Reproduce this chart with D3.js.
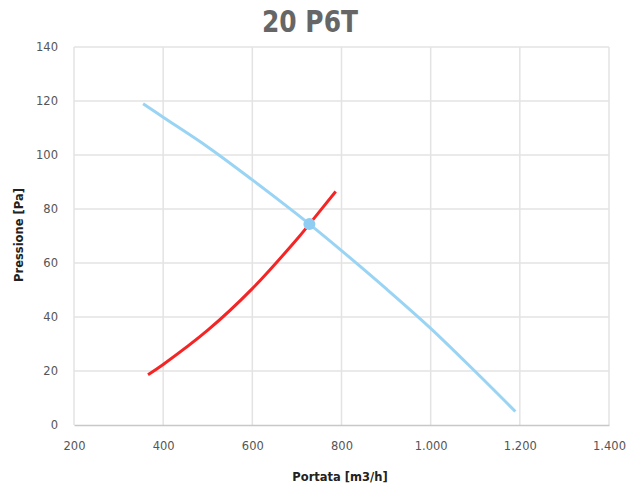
<!DOCTYPE html>
<html>
<head>
<meta charset="utf-8">
<script src="https://cdn.jsdelivr.net/npm/d3@7"></script>
<style>
  body { margin: 0; background: #fff; }
</style>
</head>
<body>
<svg id="chart"></svg>
<script>
// curva ventilatore (portata m3/h, pressione Pa)
const fanQ = [355, 400, 500, 600, 700, 728, 800, 900, 1000, 1100, 1190];
const fanP = [119, 114, 103, 90.8, 78.1, 74.4, 64.6, 50.5, 35.8, 19.8, 5];
// curva impianto
const sysQ = [366, 400, 500, 600, 700, 728, 787];
const sysP = [18.6, 22.4, 35.1, 50.5, 68.8, 74.4, 86.5];
// punto di lavoro
const workQ = [728];
const workP = [74.4];

const xTicks = [200, 400, 600, 800, 1000, 1200, 1400];
const yTicks = [0, 20, 40, 60, 80, 100, 120, 140];

document.addEventListener("DOMContentLoaded", drawChart);

function drawChart() {
    const width = 636;
    const height = 490;
    const margin = { left: 74, right: 27, top: 47, bottom: 65 };

    const svg = d3.select("svg#chart")
        .attr("width", width)
        .attr("height", height);

    const x = d3.scaleLinear().domain([200, 1400]).range([margin.left, width - margin.right]);
    const y = d3.scaleLinear().domain([0, 140]).range([height - margin.bottom, margin.top]);

    const fmt = d3.formatLocale({ decimal: ",", thousands: ".", grouping: [3], currency: ["€", ""] }).format(",d");

    // titolo
    svg.append("text")
        .attr("x", 310)
        .attr("y", 32)
        .attr("text-anchor", "middle")
        .attr("font-family", "'DejaVu Sans', sans-serif")
        .attr("font-weight", "bold")
        .attr("font-size", 30)
        .attr("textLength", 96)
        .attr("lengthAdjust", "spacingAndGlyphs")
        .attr("fill", "#666")
        .text("20 P6T");

    // griglia
    svg.append("g")
        .selectAll("line")
        .data(xTicks)
        .join("line")
        .attr("x1", d => x(d)).attr("x2", d => x(d))
        .attr("y1", y(140)).attr("y2", y(0))
        .attr("stroke", "#e3e3e3")
        .attr("stroke-width", 1.5);

    svg.append("g")
        .selectAll("line")
        .data(yTicks.slice(1))
        .join("line")
        .attr("x1", x(200)).attr("x2", x(1400))
        .attr("y1", d => y(d)).attr("y2", d => y(d))
        .attr("stroke", "#e3e3e3")
        .attr("stroke-width", 1.5);

    // asse x
    const xAxis = svg.append("g")
        .attr("transform", `translate(0,${y(0)})`)
        .call(d3.axisBottom(x).tickValues(xTicks).tickFormat(fmt).tickSize(0).tickPadding(17));
    xAxis.select(".domain").attr("stroke", "#c8c8c8").attr("stroke-width", 1.5);
    xAxis.selectAll("text")
        .attr("font-family", "'DejaVu Sans', sans-serif")
        .attr("font-size", 11.5)
        .attr("fill", "#555");

    // asse y
    const yAxis = svg.append("g")
        .attr("transform", `translate(${x(200)},0)`)
        .call(d3.axisLeft(y).tickValues(yTicks).tickSize(0).tickPadding(16));
    yAxis.select(".domain").remove();
    yAxis.selectAll("text")
        .attr("font-family", "'DejaVu Sans', sans-serif")
        .attr("font-size", 11.5)
        .attr("fill", "#555");

    // titoli assi
    svg.append("text")
        .attr("x", 340)
        .attr("y", 481)
        .attr("text-anchor", "middle")
        .attr("font-family", "'DejaVu Sans', sans-serif")
        .attr("font-weight", "bold")
        .attr("font-size", 11.5)
        .attr("fill", "#222")
        .text("Portata [m3/h]");

    svg.append("text")
        .attr("transform", `translate(23,235) rotate(-90)`)
        .attr("text-anchor", "middle")
        .attr("font-family", "'DejaVu Sans', sans-serif")
        .attr("font-weight", "bold")
        .attr("font-size", 11.5)
        .attr("fill", "#222")
        .text("Pressione [Pa]");

    const line = d3.line()
        .x(d => x(d[0]))
        .y(d => y(d[1]))
        .curve(d3.curveCatmullRom.alpha(0.5));

    svg.append("path")
        .datum(fanQ.map((q, i) => [q, fanP[i]]))
        .attr("d", line)
        .attr("fill", "none")
        .attr("stroke", "#9ad4f5")
        .attr("stroke-width", 3);

    svg.append("path")
        .datum(sysQ.map((q, i) => [q, sysP[i]]))
        .attr("d", line)
        .attr("fill", "none")
        .attr("stroke", "#f52525")
        .attr("stroke-width", 3);

    svg.append("g")
        .selectAll("circle")
        .data(workQ.map((q, i) => [q, workP[i]]))
        .join("circle")
        .attr("cx", d => x(d[0]))
        .attr("cy", d => y(d[1]))
        .attr("r", 6)
        .attr("fill", "#8fcdf3");
}
</script>
</body>
</html>
